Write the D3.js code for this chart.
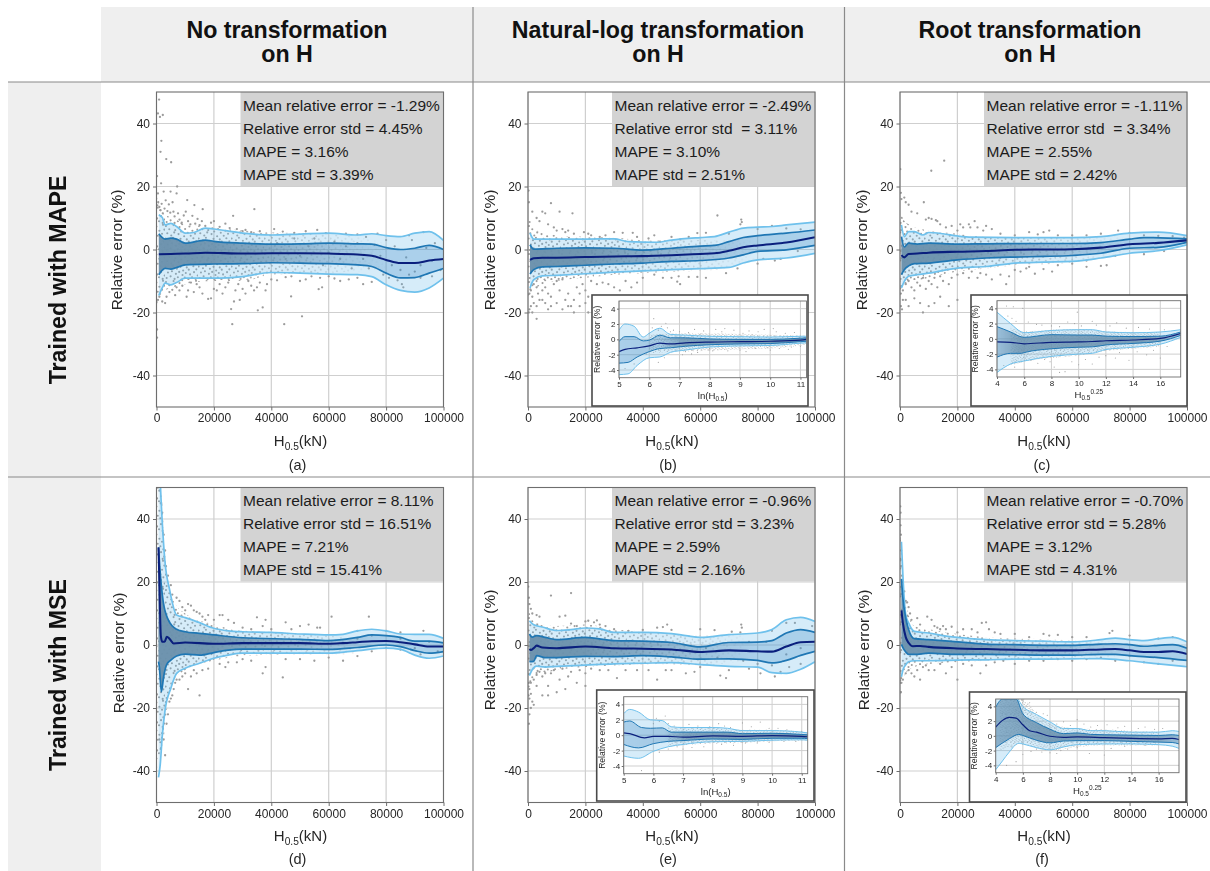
<!DOCTYPE html>
<html><head><meta charset="utf-8">
<script src="https://cdn.jsdelivr.net/npm/d3@7"></script>
<style>
html,body{margin:0;padding:0;background:#fff}
svg{display:block;font-family:"Liberation Sans",Arial,sans-serif;filter:blur(.4px)}
</style></head><body><svg id="c" width="1210" height="871"></svg>
<script>
// ---- text ----
const COL_TITLES=[["No transformation","on H"],["Natural-log transformation","on H"],["Root transformation","on H"]];
const ROW_TITLES=["Trained with MAPE","Trained with MSE"];
const PANEL_TAGS=["(a)","(b)","(c)","(d)","(e)","(f)"];
const STATS_A=["Mean relative error = -1.29%","Relative error std = 4.45%","MAPE = 3.16%","MAPE std = 3.39%"];
const STATS_B=["Mean relative error = -2.49%","Relative error std  = 3.11%","MAPE = 3.10%","MAPE std = 2.51%"];
const STATS_C=["Mean relative error = -1.11%","Relative error std  = 3.34%","MAPE = 2.55%","MAPE std = 2.42%"];
const STATS_D=["Mean relative error = 8.11%","Relative error std = 16.51%","MAPE = 7.21%","MAPE std = 15.41%"];
const STATS_E=["Mean relative error = -0.96%","Relative error std = 3.23%","MAPE = 2.59%","MAPE std = 2.16%"];
const STATS_F=["Mean relative error = -0.70%","Relative error std = 5.28%","MAPE = 3.12%","MAPE std = 4.31%"];
const X_TICKS=[0,20,40,60,80,100];   // thousands of kN
const Y_TICKS=[-40,-20,0,20,40];
const INSET_Y_TICKS=[-4,-2,0,2,4];
const LN_TICKS=[5,6,7,8,9,10,11];
const ROOT_TICKS=[4,6,8,10,12,14,16];

// ---- panel (a): [H in 1000 kN, relative error %] ----
const A_UP2=[[.8,11],[2,10.2],[3,7.8],[5,8.3],[7,7.3],[10,5.2],[13,5.4],[17,6.8],[20,6.5],[30,5.2],[40,4.6],[50,4.9],[60,5.2],[70,4.6],[75,5],[80,4.4],[85,4.1],[90,5.2],[95,5.7],[100,2.9]];
const A_UP1=[[.8,5],[3,3.3],[5,3.6],[7,3.3],[10,2],[17,3],[20,2.6],[30,2],[40,1.7],[50,1.8],[60,2],[70,1.8],[75,1.7],[80,.6],[85,0],[90,.4],[95,1.3],[100,0]];
const A_MEAN=[[.8,-1.5],[5,-1.4],[10,-1.3],[17,-1],[30,-1.3],[40,-1.2],[50,-1.2],[60,-1.3],[70,-1.6],[75,-2],[80,-3.3],[85,-4.3],[90,-4.3],[95,-3.5],[100,-3]];
const A_LO1=[[.8,-8],[3,-6],[5,-6.2],[7,-5.7],[10,-4.9],[20,-4.6],[30,-4.5],[40,-4.2],[50,-4.3],[60,-4.5],[70,-4.9],[75,-5.4],[80,-7.5],[85,-9],[90,-8.9],[95,-7.5],[100,-6]];
const A_LO2=[[.8,-14.6],[2,-12.2],[3,-10.7],[5,-11.2],[7,-10.5],[10,-9.1],[20,-9.1],[30,-8.6],[40,-7.3],[50,-7.5],[60,-7.8],[70,-8],[75,-8.6],[80,-11.2],[85,-13],[90,-13.5],[95,-12.2],[100,-9.1]];
const A_CLOUD_UP=[[0,18],[1,14],[3,11],[6,10],[10,8],[20,7],[30,6],[40,5.5],[55,5],[70,4],[80,2]];
const A_CLOUD_LO=[[80,-6],[70,-7],[55,-7.5],[40,-8],[30,-10],[20,-10],[10,-11],[6,-12],[3,-13],[1,-15],[0,-18]];
const A_POINTS=[[.9,47.6],[.5,43.2],[1.2,42.1],[2.2,42.7],[1.7,34.5],[1.4,31],[3.4,28.7],[5.1,27.7],[.2,23.3],[1.6,21],[7.2,20],[.5,17.8],[2.5,18.4],[4.9,18.4],[7,17.8],[10.7,15.7],[13.2,14.1],[16.1,12.8],[34.1,12.8],[26.7,10.7],[.2,-25.4],[.2,-28],[26,-18.9],[26.4,-23.7],[35.3,-19.3],[37,-18.4],[44.5,-23.7],[50.7,-21.2],[46.9,-14.9],[56.5,-12.6],[57.7,-12],[.3,14],[.6,15],[1,13.5],[1.4,12.5],[1.8,14.5],[2.2,11.5],[2.8,13],[3.2,15.6],[3.8,12.2],[4.3,14.3],[4.8,11.7],[5.6,15],[5.9,12],[6.3,10.5],[7.5,11.5],[8,9.5],[8.8,8.5],[9.5,10.8],[10.2,12],[11,9],[11.8,8],[12.5,10.7],[13.5,8.2],[14.3,9.7],[15,7.7],[15.8,9],[17,7.5],[19,8.5],[20,9],[22,7.2],[24,8.2],[25.5,6.8],[28,6.5],[30,5.8],[31,6.2],[33,5.5],[36,5.8],[41,6.5],[44,5.7],[48,5.3],[52,5.8],[56,6.2],[59,5.2],[66,5],[70,4.8],[77,5],[88,4.5],[93,5.5],[.5,-16],[1,-15],[2,-16.5],[3,-17],[3.5,-15],[4.5,-13.5],[5.5,-12.8],[6.5,-14.5],[7,-12],[8,-13],[9,-11.5],[10.5,-15],[11,-13],[12,-10.5],[13,-13.5],[14,-11],[15,-12],[16,-14],[18,-15.7],[19,-15.5],[20,-12.5],[21,-13],[22,-11],[23,-14],[24,-12],[25,-10.5],[27,-16.5],[27.5,-13],[28.5,-11],[29,-16],[30,-12.5],[31,-14],[32,-10],[33,-11.5],[34,-13],[35,-12],[36,-10.5],[38,-13],[38.5,-11],[40,-9.5],[42,-9.8],[45,-8.8],[47,-8.5],[50,-10],[52,-9.5],[54,-8.5],[57,-9],[60,-8.5],[62,-9.2],[64,-10],[67,-9.5],[70,-9],[72,-11],[75,-10.3],[79,-8],[84,-9.8],[85.5,-11],[86,-12],[92,-9],[96,-8.5],[42,2],[45,-3],[48,3.5],[50,-2],[53,1],[55,3.5],[58,-5],[60,-1],[62,2.5],[64,-3],[66,1],[68,-6],[70,2],[72,-3],[74,-6],[76,1.5],[78,-2],[80,3],[82,-5],[83,1],[85,-6.5],[87,-2.5],[89,3],[90,-7],[92,-5],[94,.5],[96,-3.5],[97,2],[99,-6.5],[88,-8],[81,-9],[73,4]];

// ---- panel (b) ----
const B_UP2=[[.7,5.2],[2,3.3],[10,3.3],[20,3.3],[30,3.4],[35,2.5],[45,2.3],[50,3],[60,3.8],[65,4.1],[70,5.5],[75,6.8],[80,7.1],[85,7.3],[90,7.8],[100,8.7]];
const B_UP1=[[.7,1.5],[2,.1],[10,.4],[20,.5],[30,.4],[40,-.2],[50,.4],[60,1.1],[65,1.3],[70,2.5],[75,3.8],[80,4.4],[90,5.2],[100,6.2]];
const B_MEAN=[[.7,-3.3],[2,-2.8],[5,-2.6],[10,-2.6],[20,-2.4],[30,-2.2],[40,-2.1],[50,-1.8],[60,-1.4],[65,-1.2],[70,-.4],[75,.7],[80,1.3],[90,2.2],[100,3.9]];
const B_LO1=[[.7,-7.8],[2,-6.4],[5,-5.5],[10,-5.4],[20,-5],[30,-4.6],[40,-4.3],[50,-3.8],[60,-3.5],[70,-2.7],[75,-1.7],[80,-.6],[90,-.1],[100,1.3]];
const B_LO2=[[.7,-12.2],[2,-9.6],[5,-8.4],[10,-8.2],[20,-7.7],[30,-7.2],[40,-6.8],[50,-6.4],[60,-6.1],[70,-5.7],[75,-4.3],[80,-3.3],[90,-2.7],[100,-1.2]];
const B_CLOUD_UP=[[0,12],[1,9],[3,6],[10,4.5],[20,4],[30,3.8],[40,3],[55,3],[70,3],[80,3]];
const B_CLOUD_LO=[[80,-3],[70,-6],[55,-7],[40,-7.5],[30,-8],[20,-9],[10,-10],[3,-12],[1,-14],[0,-15]];
const B_POINTS=[[.2,18.7],[.3,15],[1.5,12],[3,10],[4,9],[5,12],[6,11.5],[8,14.7],[11,12],[15.5,11.5],[7,8],[9,7],[10,6],[12,6.5],[13,5.5],[14,6],[16,5],[19.5,5.5],[21,5],[22,4.5],[25,4],[27,4.5],[30,5.5],[33,5.3],[36.5,5.3],[38,4],[42,3.5],[46,2.5],[50,4],[53,3.2],[56,4],[59,5.2],[62,5.3],[66,10.8],[74,8],[74.3,9.5],[74.5,8.7],[80,6.5],[85,7.5],[90,6.7],[95,6.4],[70,5],[44,4.5],[.5,-14],[1,-13],[1.5,-15],[2,-11],[3,-12],[3.5,-14],[5,-13],[6,-12],[7,-14],[8,-15],[9,-11],[10,-10],[11,-13],[12,-9.5],[13,-16],[14,-14],[15,-18],[16,-16],[17,-12],[18,-14],[19,-11],[20,-13],[21,-15],[22,-10],[24,-11],[26,-10.5],[28,-11],[30,-12],[32,-13],[34,-10],[36,-12],[38,-10.5],[40,-9],[44,-8],[47,-9],[50,-9],[52,-10.2],[53,-11],[52.5,-8.5],[56,-8.7],[59,-8.7],[62,-9],[69,-7.5],[73,-6],[80,-4.5],[82,-3],[86,-3.5],[88,-3],[94,-.5],[.3,-20],[.5,-19],[1,-18],[1.5,-20],[2,-17],[3,-18],[3,-22],[4,-16],[5,-16],[6,-17],[7,-19],[8,-18],[10,-17],[12,-19],[14,-18],[16,-20],[18,-18],[20,-17],[21,-20]];

// ---- panel (c) ----
const C_UP2=[[.5,7.8],[1.5,4.1],[3,5.7],[5,5.7],[8,4.6],[10,5.4],[15,5],[20,4.3],[25,3.9],[40,3.8],[60,3.8],[70,4.1],[80,5.2],[90,5.5],[100,4.4]];
const C_UP1=[[.5,4.1],[1.5,.8],[3,2],[6,1.7],[10,2],[20,1.7],[30,1.8],[50,1.9],[60,1.9],[70,2.2],[80,3.3],[85,3.8],[100,3.4]];
const C_MEAN=[[.5,-1.8],[1.5,-2.5],[3,-1.4],[6,-1.3],[10,-1],[20,-.7],[30,-.5],[40,-.1],[50,0],[60,.1],[70,.6],[80,1.7],[90,2.1],[100,2.9]];
const C_LO1=[[.5,-8],[1.5,-6.4],[3,-5.2],[5,-4.5],[10,-4.3],[20,-3.3],[30,-2.7],[40,-2.4],[50,-2.2],[60,-1.9],[70,-1.2],[80,.4],[90,.7],[100,2.3]];
const C_LO2=[[.5,-12.2],[1.5,-10.1],[3,-8.5],[6,-8],[10,-7.5],[20,-5.9],[30,-5.4],[40,-4.3],[50,-4],[60,-3.8],[70,-2.7],[80,-1.2],[90,-.4],[100,1.5]];
const C_CLOUD_UP=[[0,13],[1,10],[3,8],[10,6],[20,5],[30,4],[40,4],[55,4],[70,4],[80,5]];
const C_CLOUD_LO=[[80,-1],[70,-3],[55,-4.5],[40,-5],[30,-6],[20,-7],[10,-9],[3,-11],[1,-13],[0,-15]];
const C_POINTS=[[.1,25.5],[10.9,25],[15.4,28.2],[.3,18],[.5,16],[1.5,16.5],[2,15],[3,14.2],[4,12],[6,11.5],[8.3,15],[10,10],[9,9.5],[11,9.7],[12.5,9.3],[13,9],[14,8],[16,7],[18,7.5],[20,6],[21,8],[22,7],[24,8],[24.5,7],[26,9],[27,7],[29,6],[30,7.5],[32,6.5],[35,5],[40,4.5],[45,5.5],[48,4.8],[50,5.5],[52,6],[55,4.5],[60,4.5],[65,4.5],[70,5],[76,6],[80,5.3],[85,4.5],[90,4.3],[95,4.2],[99,3.8],[.3,-14],[1,-13],[2,-11],[3,-10],[4,-12],[5,-13],[6,-10.5],[7,-11.5],[8,-9],[9,-12.5],[10,-10],[11,-11],[12,-9],[13,-12],[14,-8.5],[15,-10],[17,-11],[18,-9],[20,-8],[22,-7.5],[24,-9],[25,-7],[27,-9],[28,-7.5],[30,-8],[32,-9.5],[35,-8],[37,-11],[38,-8.5],[40,-6.5],[42,-7],[44,-6],[45,-5.5],[47,-7.7],[50,-6.2],[53,-7],[55,-5],[60,-4.5],[65,-5.5],[70,-5.2],[72,-5],[65,-3.5],[75,-2],[85,-1.5],[92,-.5],[.3,-18],[.7,-19],[1,-16],[2,-16],[3,-18],[5,-15.5],[7,-17],[8,-20],[10,-18],[12,-17],[14,-15],[17,-18],[20,-16]];

// ---- panel (d) ----
const D_UP2=[[.7,66],[1.4,50],[2.9,27],[4.6,17.4],[7,9.5],[10,8.7],[15,7.1],[20,5.3],[25,4.5],[30,4.2],[40,4],[50,3.5],[60,3.2],[65,3.4],[70,4.5],[75,5],[80,4.5],[85,3.5],[90,3.4],[95,3.4],[100,2.1]];
const D_UP1=[[.7,31],[1.2,24],[2.3,14],[4.1,8],[7,5],[10,4.2],[15,3.7],[20,3.2],[30,2.3],[50,1.8],[60,1.4],[70,2.4],[75,3.2],[80,3],[85,2.4],[90,1.2],[95,1.2],[100,.7]];
const D_MEAN=[[.7,31],[1,20],[1.5,3],[2,1],[2.8,1],[3.6,2.6],[4.5,2],[6,.5],[10,.8],[20,.4],[30,.6],[50,.6],[60,.4],[65,.6],[70,.9],[75,1.2],[80,1.3],[85,.9],[90,.2],[95,-.5],[100,-.5]];
const D_LO1=[[.7,-5.3],[1,-7],[1.7,-14.8],[2.5,-10],[3.5,-6.3],[5,-4.8],[7,-3.5],[10,-2.9],[15,-3.2],[20,-2.4],[25,-1.6],[30,-1.3],[50,-1.3],[60,-1.4],[70,-.8],[80,0],[85,-.5],[90,-1.8],[95,-2.6],[100,-2.1]];
const D_LO2=[[.7,-42],[1.3,-38],[2,-29],[3,-20.6],[5,-13.7],[7,-9],[10,-7.4],[15,-5.8],[20,-4.2],[25,-3.2],[30,-2.6],[50,-2.6],[60,-2.6],[70,-1.8],[80,-1],[85,-1.4],[90,-3.2],[95,-4.2],[100,-3.5]];
const D_CLOUD_UP=[[0,50],[1,50],[2,45],[3,28],[4,20],[6,14],[10,10],[20,6.5],[30,4.5],[45,4],[60,3],[70,2]];
const D_CLOUD_LO=[[70,-3],[60,-3],[45,-3],[30,-3.5],[20,-5],[10,-8],[6,-11],[4,-18],[3,-26],[2,-32],[1,-35],[0,-40]];
const D_POINTS=[[1,49],[1.5,45],[2,42],[2.5,35],[3,30],[2.7,28],[3.3,25],[4,22],[5,19],[5.5,16],[7,15],[8,14],[9,12],[10,11],[11,13],[12,12.5],[13,11],[14,10.5],[15,10],[16,9],[17,8],[18,9.5],[20,8],[22,9.5],[23,9.5],[25,8],[27,7],[30,5.5],[33,5],[35,8.8],[37,6],[38,8],[40,5],[45,7.2],[47,5],[50,6],[53,6.5],[56,5.5],[57,5.5],[61,9],[70,4.5],[74,9],[80,4.5],[93,4.5],[85,4],[1,-30],[1.5,-33],[2,-28],[2.5,-30],[3,-35],[3.5,-25],[4,-22],[4.5,-18],[5,-17],[5.5,-16],[6,-14],[6.5,-12],[7,-11],[8,-11],[9,-10],[10,-9],[11,-14],[12,-10],[13,-8],[15,-16],[14,-9],[16,-8],[18,-7.5],[22,-6],[24,-7],[25,-5.5],[28,-5.5],[30,-4.5],[33,-5],[37,-9],[38,-7],[44,-10.3],[45,-4.5],[50,-4.5],[55,-5],[60,-4],[65,-5],[70,-3.5],[75,-2],[85,-1.5],[92,-3],[70,2],[75,3],[80,-1],[85,2],[90,-1],[95,1],[98,-2]];

// ---- panel (e) ----
const E_UP2=[[.5,7.7],[2,6.4],[5,5.7],[10,4.6],[15,4.9],[20,5.4],[25,5.1],[30,4],[40,4],[50,3.6],[55,3],[60,2.4],[70,3.3],[80,3.8],[85,4.9],[90,8],[95,8.8],[100,7.5]];
const E_UP1=[[.5,3.5],[1.5,2.5],[3,3],[6,2.4],[10,1.7],[20,2.4],[30,1.4],[40,1.2],[50,.8],[60,-.6],[70,.8],[80,.9],[85,1.4],[90,3.8],[95,4.9],[100,4]];
const E_MEAN=[[.5,-1.3],[1,-1.6],[2,-1],[3,-.2],[5,-.8],[10,-1],[20,-.5],[30,-1],[40,-1.2],[50,-1.4],[60,-2.2],[70,-1.7],[80,-2],[85,-2.1],[90,-.5],[95,.9],[100,1]];
const E_LO1=[[.5,-5.3],[2,-5.2],[3,-3.4],[6,-4],[10,-4],[20,-3.6],[30,-3.7],[40,-3.4],[50,-3.8],[60,-4.5],[70,-4.4],[80,-4.9],[85,-5.7],[90,-4.9],[95,-3.3],[100,-2]];
const E_LO2=[[.5,-9.7],[1.5,-7.8],[3,-6.7],[6,-7],[10,-6.8],[20,-6.4],[30,-6],[40,-5.8],[50,-5.6],[60,-6.2],[70,-6.8],[80,-7],[85,-8.8],[90,-9],[95,-7.7],[100,-5.3]];
const E_CLOUD_UP=[[0,12],[1,9],[3,7],[10,6],[20,6.5],[30,5],[45,4],[60,3],[75,3]];
const E_CLOUD_LO=[[75,-5],[60,-6.5],[45,-6],[30,-6.5],[20,-7],[10,-8],[3,-10],[1,-14],[0,-16]];
const E_POINTS=[[.1,18.5],[.3,15],[.5,13],[1,11.5],[1.5,10],[3,9.5],[4,9],[8,15.7],[15,16.5],[11,9],[13,9.3],[15,6.8],[17,6],[20,7.5],[21,7.7],[23,7.2],[24,7.8],[25,6.5],[27,6],[30,5],[35,4.5],[40,4.8],[45,5.5],[47,5.7],[48.5,6.5],[50,4.8],[60,5],[65,4.7],[71,4.2],[74,4],[74.3,6.5],[74.5,5.5],[90,7],[93,7],[99,6],[85,4.5],[.3,-12],[.5,-14],[1,-12],[2,-11],[3,-9.5],[4,-8.5],[5,-10],[6,-9],[7,-13],[8,-9],[9,-8],[11,-11],[12,-7.5],[14,-10],[15,-8.5],[18,-8],[20,-9],[22,-7.5],[25,-8],[28,-8],[31,-10.5],[34,-8],[38,-8],[42,-8],[45,-11],[48,-8],[50,-8],[55,-9],[58,-8.5],[60,-7],[67,-9.7],[69,-10.5],[70,-8],[77,-7.5],[81,-9],[86,-10],[91,-7],[95,-6],[88,-8.5],[85,-6.5],[80,-6],[75,-5],[66,-4],[62,-1],[90,-3],[95,-1],[83,1],[77,1],[.2,-16],[.5,-17],[1,-15.5],[1.5,-18],[2,-19],[1,-20],[.5,-22],[.3,-25],[3,-13],[5,-16],[7,-16],[10,-15],[13,-14],[17,-12],[20,-13]];

// ---- panel (f) ----
const F_UP2=[[.5,32.8],[1,22.3],[2,9.6],[3,7],[5,4.3],[10,3.8],[15,3],[20,2.4],[30,1.7],[40,1.4],[50,1.2],[60,1],[70,1.7],[75,2.2],[80,1.7],[85,1.4],[90,2],[95,2.4],[100,1]];
const F_UP1=[[.5,21],[1,15],[2,8.5],[3,4.9],[5,2],[10,1.7],[20,1],[30,.3],[40,.1],[50,-.1],[60,-.1],[70,.3],[75,.4],[80,.1],[85,-.4],[90,-.1],[95,.1],[100,-1]];
const F_MEAN=[[.5,11],[1,7],[2,2.5],[3,.7],[4.5,-.4],[7,-.3],[10,-.6],[20,-1.1],[30,-1.3],[40,-1.5],[50,-1.7],[60,-1.7],[70,-1.4],[75,-1.3],[80,-1.7],[85,-2.2],[90,-2.2],[95,-2],[100,-2.9]];
const F_LO1=[[.5,.2],[1,-.8],[2,-2.2],[3,-3],[5,-3],[10,-2.6],[20,-3],[30,-3],[40,-3.1],[50,-3.2],[60,-3.2],[70,-3],[75,-3],[80,-3.4],[90,-4],[100,-4.9]];
const F_LO2=[[.5,-10.1],[1,-8],[2,-6.3],[3,-5.3],[5,-5],[10,-5],[20,-4.8],[30,-4.7],[40,-4.5],[50,-4.5],[60,-4.4],[70,-4.3],[80,-5],[90,-6],[100,-6.9]];
const F_CLOUD_UP=[[0,40],[.5,30],[1,20],[2,14],[3,10],[5,6],[10,5],[20,3.5],[30,2.5],[45,2],[60,1.5],[75,1]];
const F_CLOUD_LO=[[75,-4],[60,-4.5],[45,-4.5],[30,-5],[20,-5.5],[10,-6],[5,-7],[2,-9],[1,-11],[0,-14]];
const F_POINTS=[[.1,44],[.2,42],[.2,38],[.3,35],[.4,30],[.2,27],[.5,25],[.7,22],[1,20],[1.5,17],[2,14],[2.5,13.5],[3,12],[3.5,10],[4,8],[6,8.5],[9.5,9],[7,6.5],[11,8],[12,6],[13,5.5],[14,5],[15,6],[16,5],[18,5.8],[20,4],[22,5],[25,5],[27,4],[28.5,7],[30,7.2],[31,5],[33,4],[35,3.5],[40,3.5],[45,2.5],[50,3.5],[52,3],[55,3.2],[60,2.5],[65,2.5],[73,3.8],[74,4.5],[80,3],[90,2],[95,2.5],[.1,-12],[.2,-15],[.3,-15],[.5,-12],[1,-11],[2,-9],[3,-8],[4,-9],[5,-10],[6,-8],[7,-11],[8,-7],[9,-6.5],[10,-8],[12,-8],[14,-6],[16,-9],[18,-7],[20,-11],[22,-6],[25,-6.5],[28,-9],[30,-6.5],[33,-5.5],[36,-5],[40,-6],[45,-5],[50,-5],[55,-4.5],[60,-5],[65,-4.5],[70,-4],[75,-5],[80,-3.5],[85,-5.5],[90,-6],[95,-5]];

// ---- inset (b): ln(H) ----
const IB_UP2=[[5,1.2],[5.2,2],[5.5,1.7],[5.8,.3],[6,.8],[6.35,1.45],[6.7,.65],[7.2,.55],[8,.4],[9,.35],[10,.3],[11,.4],[11.2,.4]];
const IB_UP1=[[5,-.3],[5.2,.35],[5.5,.35],[5.8,-.2],[6,-.1],[6.35,.55],[6.7,.2],[7.2,.2],[8,.05],[9,0],[10,0],[11,.15],[11.2,.2]];
const IB_MEAN=[[5,-1.6],[5.2,-1.3],[5.6,-1.1],[6,-.85],[6.35,-.5],[6.7,-.6],[7.2,-.45],[8,-.35],[9,-.3],[10,-.25],[11,-.1],[11.2,0]];
const IB_LO1=[[5,-3.1],[5.3,-3],[5.6,-2.3],[6,-1.6],[6.35,-1.2],[6.7,-1.1],[7.2,-.9],[8,-.7],[9,-.6],[10,-.55],[11,-.3],[11.2,-.25]];
const IB_LO2=[[5,-4.6],[5.3,-4.5],[5.6,-3.4],[6,-2.4],[6.35,-2.3],[6.7,-1.7],[7.2,-1.4],[8,-1],[9,-.85],[10,-.8],[11,-.5],[11.2,-.45]];
const IB_CLOUD_UP=[[6,.6],[7,.8],[8,.8],[9,.7],[10,.6],[11.2,.5]];
const IB_CLOUD_LO=[[11.2,-.7],[10,-1.2],[9,-1.3],[8,-1.5],[7,-1.6],[6,-1.8]];
const IB_POINTS=[[5.2,-3.8],[5.5,-3.2],[5.9,-1.9],[6,.8],[6.15,2.7],[6.3,1.2],[6.55,2.1],[6.6,1.5],[6.3,-3],[6.5,-2.4],[6.8,1.2],[7,1],[7.2,-1.6],[7.3,.9],[7.5,1.3],[7.6,-1.7],[7.8,1.1],[8,-1.2],[8.2,1.3],[8.4,1],[8.6,-1.5],[8.8,1.2],[9,-1.4],[9.1,.8],[9.3,1.1],[9.5,-1.2],[9.6,1],[9.8,1.3],[10,-1.4],[10.2,1],[10.3,-1.2],[10.5,.8],[10.7,-1],[10.8,.9],[11,-.9],[7.4,-1.9],[8.1,-1.5],[9.2,-1.6],[9.9,-1.1],[6.1,1.5],[6.4,1.7],[6.7,1],[7.1,-2],[7.7,.7],[8.5,1.4],[9.4,.6],[10.1,1.4],[10.6,-1.3]];

// ---- inset (c): H^0.25 ----
const IC_UP2=[[4,3.5],[5,2],[5.8,.9],[6,.8],[8,1.1],[10,1.2],[11,1.2],[12,.9],[14,.8],[16,.9],[17.5,1.2]];
const IC_UP1=[[4,1.6],[5,.9],[5.8,.25],[6,.2],[8,.55],[10,.5],[11,.5],[12,.35],[14,.3],[16,.35],[17.5,.9]];
const IC_MEAN=[[4,-.4],[5,-.45],[6,-.65],[8,-.45],[10,-.4],[11,-.35],[12,-.25],[14,-.15],[16,.05],[17.5,.7]];
const IC_LO1=[[4,-2.4],[5,-1.9],[5.8,-1.9],[6,-1.8],[8,-1.3],[10,-1.1],[11,-1.05],[12,-.8],[14,-.6],[16,-.3],[17.5,.45]];
const IC_LO2=[[4,-4.4],[5,-3.3],[6,-2.9],[8,-2.3],[10,-2],[11,-1.9],[12,-1.4],[14,-1.1],[16,-.7],[17.5,.2]];
const IC_CLOUD_UP=[[5,1.5],[6,1],[8,1.2],[10,1.3],[12,1],[14,.9],[16,.9]];
const IC_CLOUD_LO=[[16,-1],[14,-1.3],[12,-1.6],[10,-2.2],[8,-2.5],[6,-3],[5,-3.5]];
const IC_POINTS=[[4.7,4.3],[5.2,4.2],[5.9,4],[4.8,3],[5.1,2.7],[5.4,2.3],[6.3,2.2],[6.9,1.9],[7.3,1.8],[8,1.7],[8.6,1.6],[9.2,2.2],[9.9,3.5],[9.7,2],[10.2,1.7],[11,2.3],[11.3,1.8],[12.3,1.7],[12.8,2.1],[13.5,1.4],[14.4,1.5],[15.2,1.3],[16.3,1.2],[4.5,-3.5],[5.3,-3.7],[5.8,-3],[6.5,-2.8],[7,-3.2],[7.5,-2.7],[8.2,-3.7],[8.6,-4.4],[9,-4.3],[9.5,-3],[10,-3.4],[10.5,-2.7],[11,-3.3],[11.5,-2.4],[12,-2.2],[12.7,-2.5],[13,-1.8],[13.7,-2.8],[14.3,-1.7],[15,-2.1],[15.5,-1.5],[16,-2.5],[16.5,-1],[6,-4],[7.9,-3]];

// ---- inset (e): ln(H) ----
const IE_UP2=[[5,2.8],[5.2,3.35],[5.5,3],[5.9,2],[6.3,1.9],[6.6,1.1],[7,1],[8,1],[8.5,.9],[9,.6],[10,.6],[11,.4],[11.2,.3]];
const IE_UP1=[[5,1.7],[5.2,1.85],[5.6,1],[5.9,.9],[6.3,.95],[6.6,.4],[7,.4],[8,.4],[8.5,.4],[9,.2],[10,.25],[11,.1],[11.2,.05]];
const IE_MEAN=[[5,.3],[5.2,.2],[5.7,-.35],[6,-.15],[6.5,-.15],[7,-.25],[8,-.1],[9,-.15],[10,-.05],[11,-.15],[11.2,-.2]];
const IE_LO1=[[5,-1.2],[5.5,-1.65],[6,-1.1],[6.5,-.8],[7,-.7],[8,-.5],[9,-.55],[10,-.4],[11,-.4],[11.2,-.45]];
const IE_LO2=[[5,-2.7],[5.5,-3],[6,-2.1],[6.5,-1.5],[7,-1.2],[8,-.85],[9,-.8],[10,-.65],[11,-.6],[11.2,-.65]];
const IE_CLOUD_UP=[[6.5,1],[7,.9],[8,1],[9,.7],[10,.7],[11.2,.35]];
const IE_CLOUD_LO=[[11.2,-.7],[10,-.8],[9,-1],[8,-1.1],[7,-1.3],[6.5,-1.5]];
const IE_POINTS=[[5.6,-4.6],[6.1,2.2],[6.2,1.8],[6.4,2.5],[6.5,1.5],[6.7,1.2],[7.2,1.4],[7.5,1.2],[7.9,1.1],[8.2,1.5],[8.4,1.2],[8.6,1],[9,1.6],[9.3,1.1],[9.6,1.7],[9.9,.9],[10.2,.9],[10.5,.7],[11,.5],[5.8,-2.5],[6.2,-2.2],[6.5,-1.8],[7,-1.8],[7.3,-1.6],[7.7,-1.5],[8.3,-1.2],[8.7,-1.3],[9.1,-1],[9.5,-1],[9.9,-.9],[10.4,-.8],[10.8,-.8],[6,1.5],[6.8,-1.5]];

// ---- inset (f): H^0.25 ----
const IF_UP2=[[4,5.5],[4.7,5.5],[5.5,5.2],[6,4],[7,2.9],[8,1.9],[9,1],[10,1],[11,.7],[12,.7],[14,.5],[16,.5],[17,.7],[17.5,.6]];
const IF_UP1=[[4,3.9],[4.5,5],[5.5,5],[6,3],[7,1.8],[8,.9],[9,.3],[10,.4],[11,.2],[12,.15],[14,.1],[16,.05],[17,.15],[17.5,.05]];
const IF_MEAN=[[4,1.2],[4.5,2.1],[5,2.5],[5.5,2.4],[6,1.5],[6.5,.7],[7,.5],[8,-.05],[9,-.2],[10,-.15],[12,-.25],[14,-.35],[16,-.4],[17,-.35],[17.5,-.5]];
const IF_LO1=[[4,-1.6],[5,-.4],[5.7,.2],[6,.05],[7,-.6],[8,-.95],[9,-.7],[10,-.65],[12,-.65],[14,-.75],[16,-.85],[17,-.9],[17.5,-1.1]];
const IF_LO2=[[4,-4.6],[4.5,-3.4],[5,-2.2],[5.7,-1],[6,-1.1],[7,-1.6],[8,-1.9],[9,-1.5],[10,-1.2],[12,-1.1],[14,-1.1],[16,-1.2],[17,-1.4],[17.5,-1.7]];
const IF_CLOUD_UP=[[4.3,5],[6,5],[7,3],[8,1.7],[10,1],[12,.9],[14,.7],[16,.6]];
const IF_CLOUD_LO=[[16,-1.3],[14,-1.3],[12,-1.3],[10,-1.5],[8,-2],[7,-1.7],[6,-1.2],[4.3,-2]];
const IF_POINTS=[[4.8,-4],[5.5,-3.5],[6,-2.5],[6.6,-2.1],[7,-1.8],[7.4,-2.2],[8,-2.3],[8.5,-2.4],[8.8,-2],[9.3,-1.8],[10,-1.6],[10.9,-2.4],[12,-2.6],[12.5,-1.7],[13.5,-1.4],[15,-1.3],[6.5,4.5],[7,3.2],[7.5,3],[7.8,2.8],[8.5,1.6],[9,1.9],[9.5,1.4],[10,2.2],[10.5,1.6],[11,1.2],[11.5,1.4],[12.2,1.5],[13,1.1],[13.5,1.3],[14.5,1],[15,1.2],[15.7,.9],[16.3,1],[5,4],[5.5,3.5],[4.5,3],[5.2,-1.5],[4.8,.5],[5.6,1.5],[6.2,3.5]];

// ---- layout and style only ----
const COL_X=[156.5,528,900], ROW_Y=[92,487.5], P_W=287, P_H=315;
const COLOR={frame:"#6e6e6e",grid:"#cfcfcf",point:"#9c9c9c",band2:"#6dbbe9",band1:"#2f7fc0",line2:"#6fc1ec",line1:"#1f77b4",mean:"#0a1f7d",text:"#262626",cloud:"#8a8a8a"};
// stipple texture for the parts of the clouds too dense to read point by point (tile-relative)
const STIPPLE=[[.03,.07],[.13,.19],[.26,.04],[.31,.22],[.44,.11],[.52,.01],[.61,.18],[.74,.09],[.83,.24],[.94,.03],[.07,.33],[.19,.41],[.28,.3],[.41,.36],[.49,.27],[.58,.44],[.69,.31],[.78,.42],[.91,.35],[.98,.2],[.02,.52],[.15,.58],[.24,.49],[.36,.6],[.47,.53],[.55,.66],[.66,.55],[.72,.63],[.86,.51],[.95,.62],[.09,.73],[.21,.69],[.33,.78],[.43,.71],[.53,.82],[.63,.75],[.76,.8],[.88,.72],[.99,.84],[.05,.93],[.17,.87],[.29,.96],[.39,.9],[.5,.98],[.6,.91],[.71,.97],[.82,.9],[.93,.96]];
const svg=d3.select("#c");
const defs=svg.append("defs");
let uid=0;
function stipple(id,w,h,r){
  const p=defs.append("pattern").attr("id",id).attr("patternUnits","userSpaceOnUse").attr("width",w).attr("height",h);
  p.selectAll("circle").data(STIPPLE).join("circle").attr("cx",d=>d[0]*w).attr("cy",d=>d[1]*h).attr("r",r).attr("fill",COLOR.point);
}
stipple("stipMain",33,28,1.05);
stipple("stipIn",16.5,14,.5);

// background table
svg.append("rect").attr("x",101).attr("y",7).attr("width",1109).attr("height",75).attr("fill","#efefef");
svg.append("rect").attr("x",8).attr("y",82).attr("width",93).attr("height",789).attr("fill","#efefef");
[[8,82,1210,82],[8,477,1210,477],[473,7,473,871],[844.5,7,844.5,871]].forEach(l=>{
  svg.append("line").attr("x1",l[0]).attr("y1",l[1]).attr("x2",l[2]).attr("y2",l[3]).attr("stroke","#8a8a8a").attr("stroke-width",1.2);
});
const TITLE_X=[287,658,1030];
COL_TITLES.forEach((t,i)=>t.forEach((s,j)=>{
  svg.append("text").attr("x",TITLE_X[i]).attr("y",38+j*24).attr("text-anchor","middle").attr("font-size",23.2).attr("font-weight",700).attr("fill","#111").text(s);
}));
const ROW_C=[280,675];
ROW_TITLES.forEach((t,i)=>{
  svg.append("text").attr("transform",`translate(66,${ROW_C[i]}) rotate(-90)`).attr("text-anchor","middle").attr("font-size",23.2).attr("font-weight",700).attr("fill","#111").text(t);
});

function drawPlot(g,o){
  const x=d3.scaleLinear().domain(o.xd).range([o.x,o.x+o.w]);
  const y=d3.scaleLinear().domain(o.yd).range([o.y+o.h,o.y]);
  const id="c"+(uid++);
  defs.append("clipPath").attr("id",id).append("rect").attr("x",o.x).attr("y",o.y).attr("width",o.w).attr("height",o.h);
  const grad=(name,stops,col)=>{
    const gr=defs.append("linearGradient").attr("id",name).attr("gradientUnits","userSpaceOnUse")
      .attr("x1",o.x).attr("x2",o.x+o.w).attr("y1",0).attr("y2",0);
    stops.forEach(s=>gr.append("stop").attr("offset",s[0]).attr("stop-color",col).attr("stop-opacity",s[1]));
  };
  grad(id+"g",o.fade,COLOR.cloud);
  grad(id+"m",o.sfade,"#fff");
  defs.append("mask").attr("id",id+"k").attr("maskUnits","userSpaceOnUse").attr("x",o.x).attr("y",o.y).attr("width",o.w).attr("height",o.h)
    .append("rect").attr("x",o.x).attr("y",o.y).attr("width",o.w).attr("height",o.h).attr("fill",`url(#${id}m)`);
  g.append("rect").attr("x",o.x).attr("y",o.y).attr("width",o.w).attr("height",o.h).attr("fill","#fff");
  // grid
  const grid=g.append("g");
  grid.selectAll("line.v").data(o.xt).join("line").attr("x1",d=>x(d)).attr("x2",d=>x(d)).attr("y1",o.y).attr("y2",o.y+o.h).attr("stroke",COLOR.grid).attr("stroke-width",o.gw);
  grid.selectAll("line.h").data(o.yt).join("line").attr("y1",d=>y(d)).attr("y2",d=>y(d)).attr("x1",o.x).attr("x2",o.x+o.w).attr("stroke",COLOR.grid).attr("stroke-width",o.gw);
  const body=g.append("g").attr("clip-path",`url(#${id})`);
  const line=d3.line().x(d=>x(d[0])).y(d=>y(d[1])).curve(d3.curveMonotoneX);
  const band=(u,l)=>line(u)+line(l.slice().reverse()).replace(/^M/,"L")+"Z";
  body.append("path").attr("d",line(o.cu)+line(o.cl).replace(/^M/,"L")+"Z").attr("fill",`url(#${o.stip})`).attr("mask",`url(#${id}k)`);
  body.append("path").attr("d",band(o.up1,o.lo1)).attr("fill",`url(#${id}g)`);
  body.selectAll("circle").data(o.pts).join("circle").attr("cx",d=>x(d[0])).attr("cy",d=>y(d[1])).attr("r",o.r).attr("fill",COLOR.point);
  body.append("path").attr("d",band(o.up2,o.lo2)).attr("fill",COLOR.band2).attr("fill-opacity",.28);
  body.append("path").attr("d",band(o.up1,o.lo1)).attr("fill",COLOR.band1).attr("fill-opacity",.26);
  [[o.up2,COLOR.line2,o.lw],[o.lo2,COLOR.line2,o.lw],[o.up1,COLOR.line1,o.lw],[o.lo1,COLOR.line1,o.lw],[o.mean,COLOR.mean,o.lw*1.2]].forEach(s=>{
    body.append("path").attr("d",line(s[0])).attr("fill","none").attr("stroke",s[1]).attr("stroke-width",s[2]);
  });
  // stat box is painted over the grid and marks
  if(o.stats){
    const bx=o.x+o.w-203;
    g.append("rect").attr("x",bx).attr("y",o.y).attr("width",203).attr("height",94).attr("fill","#d3d3d3");
    o.stats.forEach((s,i)=>g.append("text").attr("x",bx+2.5).attr("y",o.y+18.5+i*23.1).attr("font-size",15.5).attr("fill","#1c1c1c").style("white-space","pre").text(s));
  }
  g.append("rect").attr("x",o.x).attr("y",o.y).attr("width",o.w).attr("height",o.h).attr("fill","none").attr("stroke",COLOR.frame).attr("stroke-width",o.fw);
  // axes
  const ax=d3.axisBottom(x).tickValues(o.xt).tickSize(o.ts).tickPadding(o.tp).tickFormat(o.xf);
  const ay=d3.axisLeft(y).tickValues(o.yt).tickSize(o.ts).tickPadding(o.tp).tickFormat(d=>d);
  [g.append("g").attr("transform",`translate(0,${o.y+o.h})`).call(ax),g.append("g").attr("transform",`translate(${o.x},0)`).call(ay)].forEach(a=>{
    a.select(".domain").remove();
    a.selectAll("line").attr("stroke",COLOR.frame);
    a.selectAll("text").attr("font-size",o.tf).attr("fill",COLOR.text).attr("font-family","inherit");
  });
  return {x,y};
}
function hLabel(g,cx,by,fs,pre,sup){
  const t=g.append("text").attr("x",cx).attr("y",by).attr("text-anchor","middle").attr("font-size",fs).attr("fill",COLOR.text);
  t.append("tspan").text(pre+"H");
  t.append("tspan").attr("font-size",fs*.68).attr("dy",fs*.25).text("0.5");
  if(sup){t.append("tspan").attr("font-size",fs*.68).attr("dy",-fs*.62).text("0.25");}
  else{t.append("tspan").attr("dy",-fs*.25).text(pre?")":"(kN)");}
}

const POINTS=[A_POINTS,B_POINTS,C_POINTS,D_POINTS,E_POINTS,F_POINTS];
const MAIN=[[A_UP2,A_UP1,A_MEAN,A_LO1,A_LO2,A_CLOUD_UP,A_CLOUD_LO,STATS_A],[B_UP2,B_UP1,B_MEAN,B_LO1,B_LO2,B_CLOUD_UP,B_CLOUD_LO,STATS_B],[C_UP2,C_UP1,C_MEAN,C_LO1,C_LO2,C_CLOUD_UP,C_CLOUD_LO,STATS_C],[D_UP2,D_UP1,D_MEAN,D_LO1,D_LO2,D_CLOUD_UP,D_CLOUD_LO,STATS_D],[E_UP2,E_UP1,E_MEAN,E_LO1,E_LO2,E_CLOUD_UP,E_CLOUD_LO,STATS_E],[F_UP2,F_UP1,F_MEAN,F_LO1,F_LO2,F_CLOUD_UP,F_CLOUD_LO,STATS_F]];
const YT_X=[122,495,867,124,495,869], YT_C=[250,250,250,653,650,650];

MAIN.forEach((m,i)=>{
  const col=i%3,row=Math.floor(i/3);
  const g=svg.append("g");
  drawPlot(g,{x:COL_X[col],y:ROW_Y[row],w:P_W,h:P_H,xd:[0,100],yd:[-50,50],xt:X_TICKS,yt:Y_TICKS,
    xf:d=>d*1000,ts:3.5,tp:3,tf:12,gw:1.2,fw:1.1,lw:1.7,r:1.15,stip:"stipMain",
    fade:[[0,.95],[.2,.9],[.4,.55],[.6,.2],[.8,0]],
    sfade:[[0,1],[.25,.95],[.45,.6],[.7,.15],[.85,0]],
    up2:m[0],up1:m[1],mean:m[2],lo1:m[3],lo2:m[4],cu:m[5],cl:m[6],pts:POINTS[i],stats:m[7]});
  g.append("text").attr("transform",`translate(${YT_X[i]},${YT_C[i]}) rotate(-90)`).attr("text-anchor","middle").attr("font-size",15.4).attr("fill",COLOR.text).text("Relative error (%)");
  const by=row?841:446;
  hLabel(g,COL_X[col]+144,by,15,"",false);
  g.append("text").attr("x",[297.5,668,1042][col]).attr("y",row?864:470).attr("text-anchor","middle").attr("font-size",14.5).attr("fill",COLOR.text).text(PANEL_TAGS[i]);
});

const LN_FADE=[[0,0],[.22,.1],[.35,.7],[1,.9]];
const ROOT_FADE=[[0,.25],[.12,.75],[.8,.75],[1,.4]];
const ROOT2_FADE=[[0,.5],[.3,.8],[.9,.6],[1,.3]];
const INSETS=[
 {fx:592,fy:295,fw:216,fh:111,x:619,y:301,w:187.5,h:76.7,xd:[5,11.2],xt:LN_TICKS,d:[IB_UP2,IB_UP1,IB_MEAN,IB_LO1,IB_LO2,IB_CLOUD_UP,IB_CLOUD_LO,IB_POINTS],root:false,fade:LN_FADE},
 {fx:971,fy:295,fw:216,fh:111,x:997,y:300.7,w:183.7,h:76.3,xd:[4,17.5],xt:ROOT_TICKS,d:[IC_UP2,IC_UP1,IC_MEAN,IC_LO1,IC_LO2,IC_CLOUD_UP,IC_CLOUD_LO,IC_POINTS],root:true,fade:ROOT_FADE},
 {fx:596.7,fy:690,fw:217.3,fh:111,x:623.7,y:696.7,w:184,h:77,xd:[5,11.2],xt:LN_TICKS,d:[IE_UP2,IE_UP1,IE_MEAN,IE_LO1,IE_LO2,IE_CLOUD_UP,IE_CLOUD_LO,IE_POINTS],root:false,fade:LN_FADE},
 {fx:969.5,fy:692,fw:216.5,fh:110,x:995.7,y:699,w:183.3,h:73.7,xd:[4,17.5],xt:ROOT_TICKS,d:[IF_UP2,IF_UP1,IF_MEAN,IF_LO1,IF_LO2,IF_CLOUD_UP,IF_CLOUD_LO,IF_POINTS],root:true,fade:ROOT2_FADE}
];
INSETS.forEach(n=>{
  const g=svg.append("g");
  g.append("rect").attr("x",n.fx).attr("y",n.fy).attr("width",n.fw).attr("height",n.fh).attr("fill","#fff").attr("stroke","#4a4a4a").attr("stroke-width",1.6);
  drawPlot(g,{x:n.x,y:n.y,w:n.w,h:n.h,xd:n.xd,yd:[-5,5],xt:n.xt,yt:INSET_Y_TICKS,
    xf:d=>d,ts:2,tp:1.5,tf:8,gw:1,fw:.9,lw:1,r:.55,stip:"stipIn",
    fade:n.fade,sfade:[[0,1],[1,1]],
    up2:n.d[0],up1:n.d[1],mean:n.d[2],lo1:n.d[3],lo2:n.d[4],cu:n.d[5],cl:n.d[6],pts:n.d[7]});
  g.append("text").attr("transform",`translate(${n.x-19},${n.y+n.h/2}) rotate(-90)`).attr("text-anchor","middle").attr("font-size",8.6).attr("fill",COLOR.text).text("Relative error (%)");
  const cx=n.x+n.w/2, by=n.y+n.h+21;
  if(n.root) hLabel(g,cx,by,9.6,"",true); else hLabel(g,cx,by,9.6,"ln(",false);
});
</script></body></html>
